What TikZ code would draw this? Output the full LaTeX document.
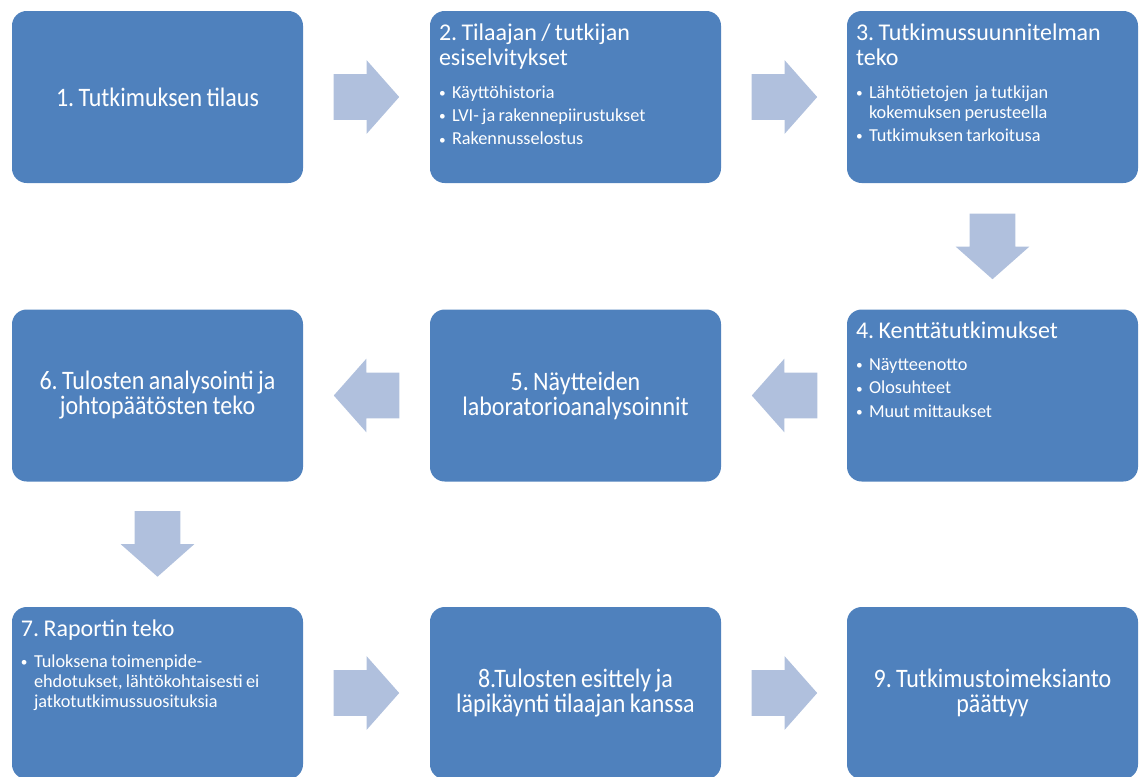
\documentclass[tikz,border=0pt]{standalone}
\usepackage{fontspec}
\setmainfont{Carlito}[WordSpace=0.8]
\newfontfamily\condfont{Carlito}[FakeStretch=0.9, WordSpace=0.8]
\usetikzlibrary{shapes.arrows,calc}

\definecolor{smBlue}{RGB}{79,129,189}
\definecolor{smArrow}{RGB}{176,192,221}

\newcommand{\bul}{\makebox[9.75pt][l]{\raisebox{0.5pt}{\fontsize{10}{10}\selectfont\textbullet}}}
\newcommand{\cont}{\hspace*{9.75pt}}
\frenchspacing

\begin{document}
\begin{tikzpicture}[x=0.75pt, y=-0.75pt,
    stepbox/.style={rounded corners=11pt, fill=smBlue, text=white, inner sep=0pt,
        minimum width=218.25pt, minimum height=129pt, align=center,
        font=\condfont\fontsize{20}{18.75}\selectfont},
    headtext/.style={anchor=north west, inner sep=0pt, text=white, text width=208pt,
        align=flush left, font=\fontsize{18}{18.75}\selectfont},
    listtext/.style={anchor=north west, inner sep=0pt, text=white, text width=208pt,
        align=flush left, font=\fontsize{13.7}{15}\selectfont},
    flow/.style={single arrow, fill=smArrow, draw=none, inner sep=16.875pt, anchor=tail,
        minimum height=48pt, single arrow head extend=10.5pt, single arrow tip angle=97}
]
    \useasboundingbox (0,0) rectangle (1139,776);

    % row 1
    \node[stepbox] (b1) at (157.5,97) {1. Tutkimuksen tilaus};
    \node[stepbox] (b2) at (575.5,97) {};
    \node[stepbox] (b3) at (992.5,97) {};
    % row 2
    \node[stepbox] (b4) at (992.5,395.5) {};
    \node[stepbox] (b5) at (575.5,395.5) {5. Näytteiden\\laboratorioanalysoinnit};
    \node[stepbox] (b6) at (157.5,395.5) {6. Tulosten analysointi ja\\johtopäätösten teko};
    % row 3
    \node[stepbox] (b7) at (157.5,693) {};
    \node[stepbox] (b8) at (575.5,693) {8.Tulosten esittely ja\\läpikäynti tilaajan kanssa};
    \node[stepbox] (b9) at (992.5,693) {9. Tutkimustoimeksianto\\päättyy};

    % headings and lists
    \node[headtext] (b2head) at ($(b2.north west)+(9,11.5)$) {\strut 2. Tilaajan / tutkijan\\esiselvitykset};
    \node[listtext] (b2list) at ($(b2.north west)+(9,73)$) {\strut\bul Käyttöhistoria\\[2.6pt]\bul LVI- ja rakennepiirustukset\\[2.6pt]\bul Rakennusselostus};

    \node[headtext] (b3head) at ($(b3.north west)+(9,11.5)$) {\strut 3. Tutkimussuunnitelman\\teko};
    \node[listtext] (b3list) at ($(b3.north west)+(9,73)$) {\strut\bul Lähtötietojen~ ja tutkijan\\\cont kokemuksen perusteella\\[2.6pt]\bul Tutkimuksen tarkoitusa};

    \node[headtext] (b4head) at ($(b4.north west)+(9,11.5)$) {\strut 4. Kenttätutkimukset};
    \node[listtext] (b4list) at ($(b4.north west)+(9,47)$) {\strut\bul Näytteenotto\\[2.6pt]\bul Olosuhteet\\[2.6pt]\bul Muut mittaukset};

    \node[headtext] (b7head) at ($(b7.north west)+(9,11.5)$) {\strut 7. Raportin teko};
    \node[listtext] (b7list) at ($(b7.north west)+(9,46)$) {\strut\bul Tuloksena toimenpide-\\\cont ehdotukset, lähtökohtaisesti ei\\\cont jatkotutkimussuosituksia};

    % block arrows
    \node[flow] (a12) at ($(b1.east)+(30,0)$) {};
    \node[flow] (a23) at ($(b2.east)+(30,0)$) {};
    \node[flow, shape border rotate=270] (a34) at ($(b3.south)+(0,30)$) {};
    \node[flow, shape border rotate=180] (a45) at ($(b4.west)+(-29,0)$) {};
    \node[flow, shape border rotate=180] (a56) at ($(b5.west)+(-30,0)$) {};
    \node[flow, shape border rotate=270] (a67) at ($(b6.south)+(0,29)$) {};
    \node[flow] (a78) at ($(b7.east)+(30,0)$) {};
    \node[flow] (a89) at ($(b8.east)+(30,0)$) {};
\end{tikzpicture}
\end{document}
